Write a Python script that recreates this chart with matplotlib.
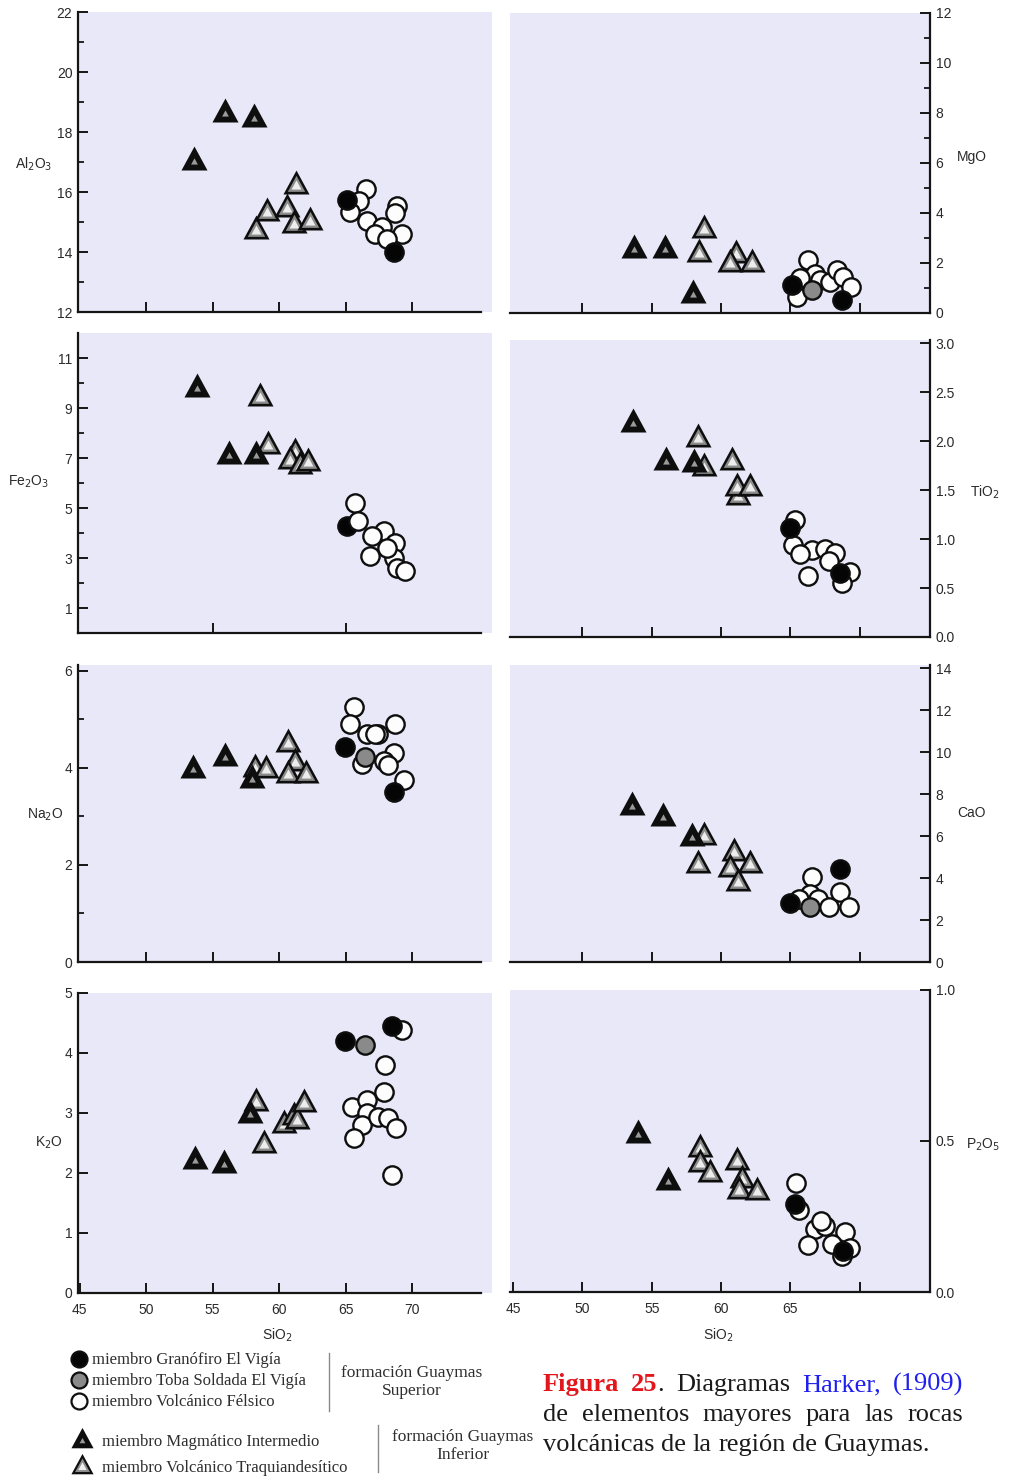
import matplotlib
matplotlib.use('Agg')
import matplotlib.pyplot as plt
from matplotlib.path import Path
import numpy as np

# ---------------- data: (SiO2, oxide wt%) ----------------
# groups: MAG = miembro Magmático Intermedio, TRQ = miembro Volcánico Traquiandesítico,
#         GRA = miembro Granófiro El Vigía, TOB = miembro Toba Soldada El Vigía,
#         FEL = miembro Volcánico Félsico
AL_MAG = [(53.6, 17.0), (55.9, 18.6), (58.1, 18.45)]
AL_TRQ = [(58.3, 14.7), (59.1, 15.3), (60.6, 15.45), (61.3, 16.2), (61.1, 14.9), (62.3, 15.0)]
AL_GRA = [(65.1, 15.75), (68.6, 14.0)]
AL_TOB = []
AL_FEL = [(66.5, 16.1), (66.0, 15.7), (65.35, 15.35), (66.6, 15.05), (67.7, 14.85),
          (68.85, 15.55), (68.7, 15.3), (69.2, 14.6), (67.2, 14.6), (68.1, 14.45)]

MG_MAG = [(53.7, 2.5), (55.95, 2.5), (58.0, 0.7)]
MG_TRQ = [(58.8, 3.3), (58.4, 2.35), (61.1, 2.3), (60.65, 1.95), (62.2, 1.95)]
MG_GRA = [(65.15, 1.1), (68.7, 0.5)]
MG_TOB = [(66.55, 0.9)]
MG_FEL = [(66.3, 2.1), (65.45, 0.65), (66.8, 1.55), (67.15, 1.3), (67.85, 1.25),
          (68.35, 1.7), (68.8, 1.45), (69.4, 1.05), (65.7, 1.4)]

FE_MAG = [(53.8, 9.75), (56.2, 7.1), (58.3, 7.1)]
FE_TRQ = [(58.55, 9.4), (59.2, 7.5), (61.2, 7.2), (60.85, 6.9), (61.6, 6.7), (62.2, 6.8)]
FE_GRA = [(65.1, 4.3)]
FE_TOB = []
FE_FEL = [(65.7, 5.2), (65.95, 4.5), (67.85, 4.1), (67.0, 3.9), (68.7, 3.6),
          (66.85, 3.1), (68.6, 3.0), (68.85, 2.6), (69.45, 2.5), (68.1, 3.4)]

TI_MAG = [(53.65, 2.18), (56.0, 1.79), (58.05, 1.77)]
TI_TRQ = [(61.25, 1.43), (58.35, 2.02), (58.75, 1.73), (60.8, 1.79), (61.15, 1.52), (62.1, 1.52)]
TI_GRA = [(65.0, 1.11), (68.6, 0.65)]
TI_TOB = []
TI_FEL = [(65.35, 1.2), (65.2, 0.94), (66.55, 0.89), (67.5, 0.9), (68.2, 0.86),
          (67.75, 0.78), (66.3, 0.62), (69.3, 0.66), (68.7, 0.55), (65.7, 0.85)]

NA_MAG = [(53.5, 3.95), (55.9, 4.2), (58.0, 3.75)]
NA_TRQ = [(58.2, 3.98), (59.05, 3.95), (60.65, 4.5), (61.2, 4.1), (60.65, 3.85), (62.05, 3.85)]
NA_GRA = [(64.95, 4.43), (68.6, 3.5)]
NA_TOB = [(66.45, 4.23)]
NA_FEL = [(65.6, 5.25), (65.35, 4.9), (66.6, 4.7), (67.45, 4.7), (68.7, 4.9), (68.6, 4.3),
          (67.85, 4.15), (68.2, 4.05), (66.2, 4.08), (69.35, 3.75), (67.2, 4.7)]

CA_MAG = [(53.55, 7.4), (55.85, 6.85), (57.9, 5.9)]
CA_TRQ = [(58.75, 5.95), (58.35, 4.6), (60.9, 5.2), (60.65, 4.45), (62.1, 4.6), (61.2, 3.75)]
CA_GRA = [(65.0, 2.8), (68.55, 4.45)]
CA_TOB = [(66.4, 2.6)]
CA_FEL = [(66.55, 4.05), (66.4, 3.25), (67.0, 3.0), (67.75, 2.6), (68.6, 3.35),
          (69.2, 2.6), (65.6, 3.0)]

K_MAG = [(53.7, 2.2), (55.85, 2.13), (57.85, 2.97)]
K_TRQ = [(58.3, 3.17), (58.85, 2.47), (60.35, 2.8), (61.15, 2.93), (61.35, 2.87), (61.85, 3.15)]
K_GRA = [(64.95, 4.2), (68.45, 4.45)]
K_TOB = [(66.45, 4.13)]
K_FEL = [(69.25, 4.38), (67.95, 3.8), (67.9, 3.35), (65.45, 3.1), (66.6, 3.22), (66.6, 3.0),
         (66.2, 2.8), (65.6, 2.58), (67.45, 2.93), (68.2, 2.92), (68.75, 2.75), (68.45, 1.97)]

P_MAG = [(54.0, 0.52), (56.2, 0.365)]
P_TRQ = [(58.45, 0.475), (58.45, 0.425), (59.2, 0.39), (61.15, 0.43), (61.5, 0.37),
         (61.3, 0.335), (62.6, 0.33)]
P_GRA = [(65.35, 0.293), (68.8, 0.135)]
P_TOB = []
P_FEL = [(65.4, 0.36), (65.6, 0.27), (66.8, 0.21), (67.5, 0.22), (68.95, 0.2), (68.0, 0.16),
         (66.3, 0.155), (69.3, 0.145), (68.7, 0.12), (67.2, 0.235)]

# tick values / labels
AL_TICKS = [12, 14, 16, 18, 20, 22]
FE_TICKS = [1, 3, 5, 7, 9, 11]
NA_TICKS = [0, 2, 4, 6]
K_TICKS = [0, 1, 2, 3, 4, 5]
MG_TICKS = [0, 2, 4, 6, 8, 10, 12]
TI_TICKS = [0.0, 0.5, 1.0, 1.5, 2.0, 2.5, 3.0]
CA_TICKS = [0, 2, 4, 6, 8, 10, 12, 14]
P_TICKS = [0.0, 0.5, 1.0]
SIO2_TICKS = [45, 50, 55, 60, 65, 70]

LEGEND_UPPER = ['miembro Granófiro El Vigía', 'miembro Toba Soldada El Vigía', 'miembro Volcánico Félsico']
LEGEND_LOWER = ['miembro Magmático Intermedio', 'miembro Volcánico Traquiandesítico']

# ---------------- figure ----------------
W, H = 1011, 1480
plt.rcParams['font.family'] = ['Liberation Sans', 'DejaVu Sans']
fig = plt.figure(figsize=(W / 100, H / 100), dpi=100)
fig.patch.set_facecolor('white')

BG = '#e8e8f8'
INK = '#151515'
LAB = '#2a2a2a'
SERIF = ['Liberation Serif', 'DejaVu Serif']

TRI = Path([(0, 0.613), (-0.5, -0.307), (0.5, -0.307), (0, 0.613)],
           [Path.MOVETO, Path.LINETO, Path.LINETO, Path.CLOSEPOLY])

TRI_MS = 23.0
CIR_MS = 13.2


def px_axes(left, top, right, bottom):
    return fig.add_axes([left / W, 1 - bottom / H, (right - left) / W, (bottom - top) / H])


def arr(pts):
    a = np.array(pts, dtype=float).reshape(-1, 2)
    return a[:, 0], a[:, 1]


def traq(ax, x, y, scale=1.0, z=3):
    for xi, yi in zip(x, y):
        ax.scatter([xi], [yi], s=(TRI_MS * scale) ** 2, marker=TRI, color='#0e0e0e', lw=0, zorder=z)
        ax.scatter([xi], [yi], s=(TRI_MS * 0.67 * scale) ** 2, marker=TRI, color='#8c8c8c', lw=0, zorder=z)
        ax.scatter([xi], [yi], s=(TRI_MS * 0.38 * scale) ** 2, marker=TRI, color='#ededed', lw=0, zorder=z)


def magm(ax, x, y, scale=1.0, z=3):
    for xi, yi in zip(x, y):
        ax.scatter([xi], [yi], s=(TRI_MS * scale) ** 2, marker=TRI, color='#0e0e0e', lw=0, zorder=z)
        ax.scatter([xi], [yi], s=(TRI_MS * 0.26 * scale) ** 2, marker=TRI, color='#9a9a9a', lw=0, zorder=z)


def circles(ax, x, y, face, scale=1.0, z=4):
    if len(x):
        ax.scatter(x, y, s=(CIR_MS * scale) ** 2, marker='o', facecolor=face, edgecolor='#0e0e0e',
                   linewidths=1.7, zorder=z)


def draw_points(ax, mag, trq, gra, tob, fel, black_behind=False):
    traq(ax, *arr(trq))
    magm(ax, *arr(mag))
    if black_behind:
        circles(ax, *arr(gra), '#050505', z=4)
        circles(ax, *arr(tob), '#8a8a8a', z=4)
        circles(ax, *arr(fel), '#fdfdfd', z=5)
    else:
        circles(ax, *arr(fel), '#fdfdfd', z=4)
        circles(ax, *arr(tob), '#8a8a8a', z=5)
        circles(ax, *arr(gra), '#050505', z=5)


def style(ax, side, xlim, ylim, ymaj, ylabs, ymin, xt, xlabs=None):
    ax.set_facecolor(BG)
    ax.set_xlim(*xlim)
    ax.set_ylim(*ylim)
    for s in ['top', 'left', 'right', 'bottom']:
        ax.spines[s].set_visible(False)
    for s in ('bottom', side):
        ax.spines[s].set_visible(True)
        ax.spines[s].set_linewidth(1.6)
        ax.spines[s].set_color(INK)
    if side == 'left':
        ax.spines['bottom'].set_bounds(xlim[0], 75.2)
        ax.yaxis.tick_left()
    else:
        ax.yaxis.tick_right()
    ax.set_yticks(ymaj)
    ax.set_yticklabels(ylabs)
    ax.set_yticks(ymin, minor=True)
    ax.set_xticks(xt)
    ax.set_xticklabels([] if xlabs is None else xlabs)
    ax.tick_params(axis='y', which='major', direction='in', length=7, width=1.4, color=INK,
                   labelsize=10, labelcolor=LAB, pad=4)
    ax.tick_params(axis='y', which='minor', direction='in', length=4.5, width=1.3, color=INK)
    ax.tick_params(axis='x', which='major', direction='in', length=7, width=1.4, color=INK,
                   labelsize=10, labelcolor=LAB, pad=7)
    ax.tick_params(axis='x', which='minor', bottom=False, top=False)


LX = (44.887, 76.0)
RX = (44.784, 75.065)

# left column
ax = px_axes(78, 12, 492, 312)
style(ax, 'left', LX, (12, 22), AL_TICKS, [str(v) for v in AL_TICKS], [13, 15, 17, 19, 21], [50, 55, 60, 65, 70])
draw_points(ax, AL_MAG, AL_TRQ, AL_GRA, AL_TOB, AL_FEL)

ax = px_axes(78, 333, 492, 633)
style(ax, 'left', LX, (0, 12), FE_TICKS, [str(v) for v in FE_TICKS], [2, 4, 6, 8, 10], [55, 65])
draw_points(ax, FE_MAG, FE_TRQ, FE_GRA, FE_TOB, FE_FEL, black_behind=True)

ax = px_axes(78, 665, 492, 962)
style(ax, 'left', LX, (0, 6.12), NA_TICKS, [str(v) for v in NA_TICKS], [1, 3, 5], [50, 55, 60, 65, 70])
draw_points(ax, NA_MAG, NA_TRQ, NA_GRA, NA_TOB, NA_FEL)

ax = px_axes(78, 993, 492, 1293)
style(ax, 'left', LX, (0, 5), K_TICKS, [str(v) for v in K_TICKS], [], SIO2_TICKS,
      [str(v) for v in SIO2_TICKS])
draw_points(ax, K_MAG, K_TRQ, K_GRA, K_TOB, K_FEL)

# right column
ax = px_axes(510, 12.7, 930, 313)
style(ax, 'right', RX, (0, 12), MG_TICKS, [str(v) for v in MG_TICKS], [1, 3, 5, 7, 9, 11], [50, 55, 60, 65, 70])
draw_points(ax, MG_MAG, MG_TRQ, MG_GRA, MG_TOB, MG_FEL)

ax = px_axes(510, 340, 930, 637)
style(ax, 'right', RX, (0, 3.034), TI_TICKS, ['%.1f' % v for v in TI_TICKS], [], [50, 55, 60, 65, 70])
draw_points(ax, TI_MAG, TI_TRQ, TI_GRA, TI_TOB, TI_FEL)

ax = px_axes(510, 665, 930, 962)
style(ax, 'right', RX, (0, 14.15), CA_TICKS, [str(v) for v in CA_TICKS], [], [50, 55, 60, 65, 70])
draw_points(ax, CA_MAG, CA_TRQ, CA_GRA, CA_TOB, CA_FEL)

ax = px_axes(510, 990, 930, 1292)
style(ax, 'right', RX, (0, 1.0), P_TICKS, ['%.1f' % v for v in P_TICKS], [], SIO2_TICKS,
      [str(v) for v in SIO2_TICKS[:-1]] + [''])
draw_points(ax, P_MAG, P_TRQ, P_GRA, P_TOB, P_FEL)

# overlay in pixel coordinates for labels, legend and caption
lax = fig.add_axes([0, 0, 1, 1])
lax.set_xlim(0, W)
lax.set_ylim(H, 0)
lax.axis('off')

lab_kw = dict(fontsize=10, color=LAB, va='center')
lax.text(34, 164, r'Al$_2$O$_3$', ha='center', **lab_kw)
lax.text(29, 482, r'Fe$_2$O$_3$', ha='center', **lab_kw)
lax.text(45, 815, r'Na$_2$O', ha='center', **lab_kw)
lax.text(49, 1143, r'K$_2$O', ha='center', **lab_kw)
lax.text(957, 157, 'MgO', ha='left', **lab_kw)
lax.text(970, 492, r'TiO$_2$', ha='left', **lab_kw)
lax.text(957, 813, 'CaO', ha='left', **lab_kw)
lax.text(966, 1145, r'P$_2$O$_5$', ha='left', **lab_kw)
lax.text(277, 1335, r'SiO$_2$', ha='center', **lab_kw)
lax.text(718, 1335, r'SiO$_2$', ha='center', **lab_kw)

# legend
leg_font = dict(fontfamily=SERIF, fontsize=12, color='#2e2e2e', va='center', ha='left')
for (face, yy), txt in zip([('#050505', 1359), ('#8a8a8a', 1380), ('#fdfdfd', 1401)], LEGEND_UPPER):
    lax.scatter([79], [yy], s=11.5 ** 2, marker='o', facecolor=face, edgecolor='#0e0e0e', linewidths=1.6)
    lax.text(92, yy + 1, txt, **leg_font)
lax.plot([329, 329], [1353, 1411], color='#8a8a8a', lw=1.0)
lax.text(412, 1373, 'formación Guaymas', fontfamily=SERIF, fontsize=12.5, color='#2e2e2e', ha='center', va='center')
lax.text(412, 1391, 'Superior', fontfamily=SERIF, fontsize=12.5, color='#2e2e2e', ha='center', va='center')

magm(lax, [82], [1441], scale=0.85)
traq(lax, [82], [1467], scale=0.85)
lax.text(102, 1442, LEGEND_LOWER[0], **leg_font)
lax.text(102, 1468, LEGEND_LOWER[1], **leg_font)
lax.plot([378, 378], [1425, 1472], color='#8a8a8a', lw=1.0)
lax.text(463, 1437, 'formación Guaymas', fontfamily=SERIF, fontsize=12.5, color='#2e2e2e', ha='center', va='center')
lax.text(463, 1455, 'Inferior', fontfamily=SERIF, fontsize=12.5, color='#2e2e2e', ha='center', va='center')

# caption (justified lines built from measured word widths)
RED = '#e3161b'
BLUE = '#1f1ff0'
BLK = '#1a1a1a'
CAP_FS = 19


def caption_line(words, y, x0, x1, justify):
    objs = []
    for segs in words:
        objs.append([lax.text(0, y, txt, ha='left', va='baseline', fontfamily=SERIF, fontsize=CAP_FS,
                              color=col, fontweight=fw) for txt, col, fw in segs])
    fig.canvas.draw()
    r = fig.canvas.get_renderer()
    seg_w = [[t.get_window_extent(r).width for t in so] for so in objs]
    word_w = [sum(s) for s in seg_w]
    if justify and len(words) > 1:
        gap = (x1 - x0 - sum(word_w)) / (len(words) - 1)
    else:
        gap = 0.25 * CAP_FS * 100 / 72
    x = x0
    for so, sw in zip(objs, seg_w):
        for t, w in zip(so, sw):
            t.set_position((x, y))
            x += w
        x += gap


caption_line([[('Figura', RED, 'bold')], [('25', RED, 'bold'), ('.', BLK, 'normal')],
              [('Diagramas', BLK, 'normal')], [('Harker,', BLUE, 'normal')], [('(1909)', BLUE, 'normal')]],
             1391, 543, 963, True)
caption_line([[(w, BLK, 'normal')] for w in 'de elementos mayores para las rocas'.split()],
             1421, 543, 963, True)
caption_line([[(w, BLK, 'normal')] for w in 'volcánicas de la región de Guaymas.'.split()],
             1451, 543, 963, False)

fig.savefig('out.png', dpi=100)
